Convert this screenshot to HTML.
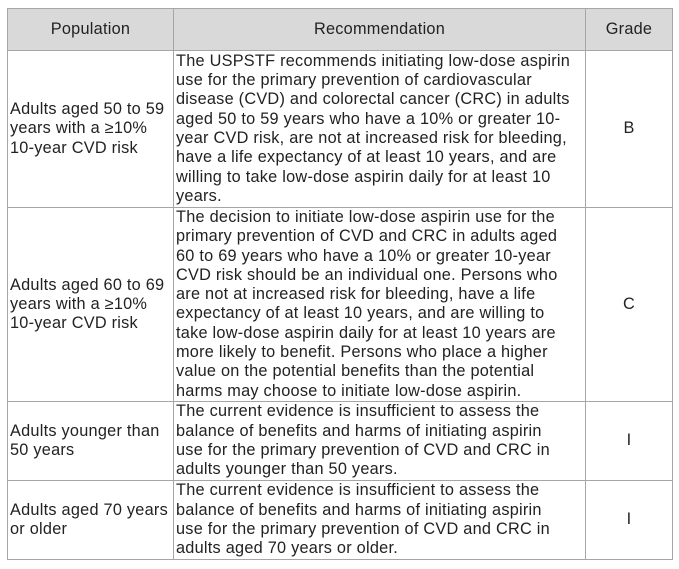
<!DOCTYPE html>
<html><head><meta charset="utf-8"><style>
body{margin:0;background:#fff;width:679px;height:569px;overflow:hidden}
table{position:absolute;left:7px;top:8px;border-collapse:collapse;font-family:"Liberation Sans",sans-serif;font-size:16.3px;line-height:19.3px;color:#222;letter-spacing:0.25px}
td,th{border:1px solid #a6a6a6;padding:0 2px;vertical-align:middle;white-space:nowrap}
th{background:#d9d9d9;font-weight:normal;height:41px;text-align:center}
td.c{text-align:center}
</style></head><body>
<table>
<colgroup><col style="width:166px"><col style="width:412px"><col style="width:87px"></colgroup>
<tr><th>Population</th><th>Recommendation</th><th>Grade</th></tr>
<tr style="height:157px"><td>Adults aged 50 to 59<br>years with a ≥10%<br>10-year CVD risk</td><td>The USPSTF recommends initiating low-dose aspirin<br>use for the primary prevention of cardiovascular<br>disease (CVD) and colorectal cancer (CRC) in adults<br>aged 50 to 59 years who have a 10% or greater 10-<br>year CVD risk, are not at increased risk for bleeding,<br>have a life expectancy of at least 10 years, and are<br>willing to take low-dose aspirin daily for at least 10<br>years.</td><td class="c">B</td></tr>
<tr style="height:193px"><td>Adults aged 60 to 69<br>years with a ≥10%<br>10-year CVD risk</td><td>The decision to initiate low-dose aspirin use for the<br>primary prevention of CVD and CRC in adults aged<br>60 to 69 years who have a 10% or greater 10-year<br>CVD risk should be an individual one. Persons who<br>are not at increased risk for bleeding, have a life<br>expectancy of at least 10 years, and are willing to<br>take low-dose aspirin daily for at least 10 years are<br>more likely to benefit. Persons who place a higher<br>value on the potential benefits than the potential<br>harms may choose to initiate low-dose aspirin.</td><td class="c">C</td></tr>
<tr style="height:79px"><td>Adults younger than<br>50 years</td><td>The current evidence is insufficient to assess the<br>balance of benefits and harms of initiating aspirin<br>use for the primary prevention of CVD and CRC in<br>adults younger than 50 years.</td><td class="c">I</td></tr>
<tr style="height:79px"><td>Adults aged 70 years<br>or older</td><td>The current evidence is insufficient to assess the<br>balance of benefits and harms of initiating aspirin<br>use for the primary prevention of CVD and CRC in<br>adults aged 70 years or older.</td><td class="c">I</td></tr>
</table>
</body></html>
